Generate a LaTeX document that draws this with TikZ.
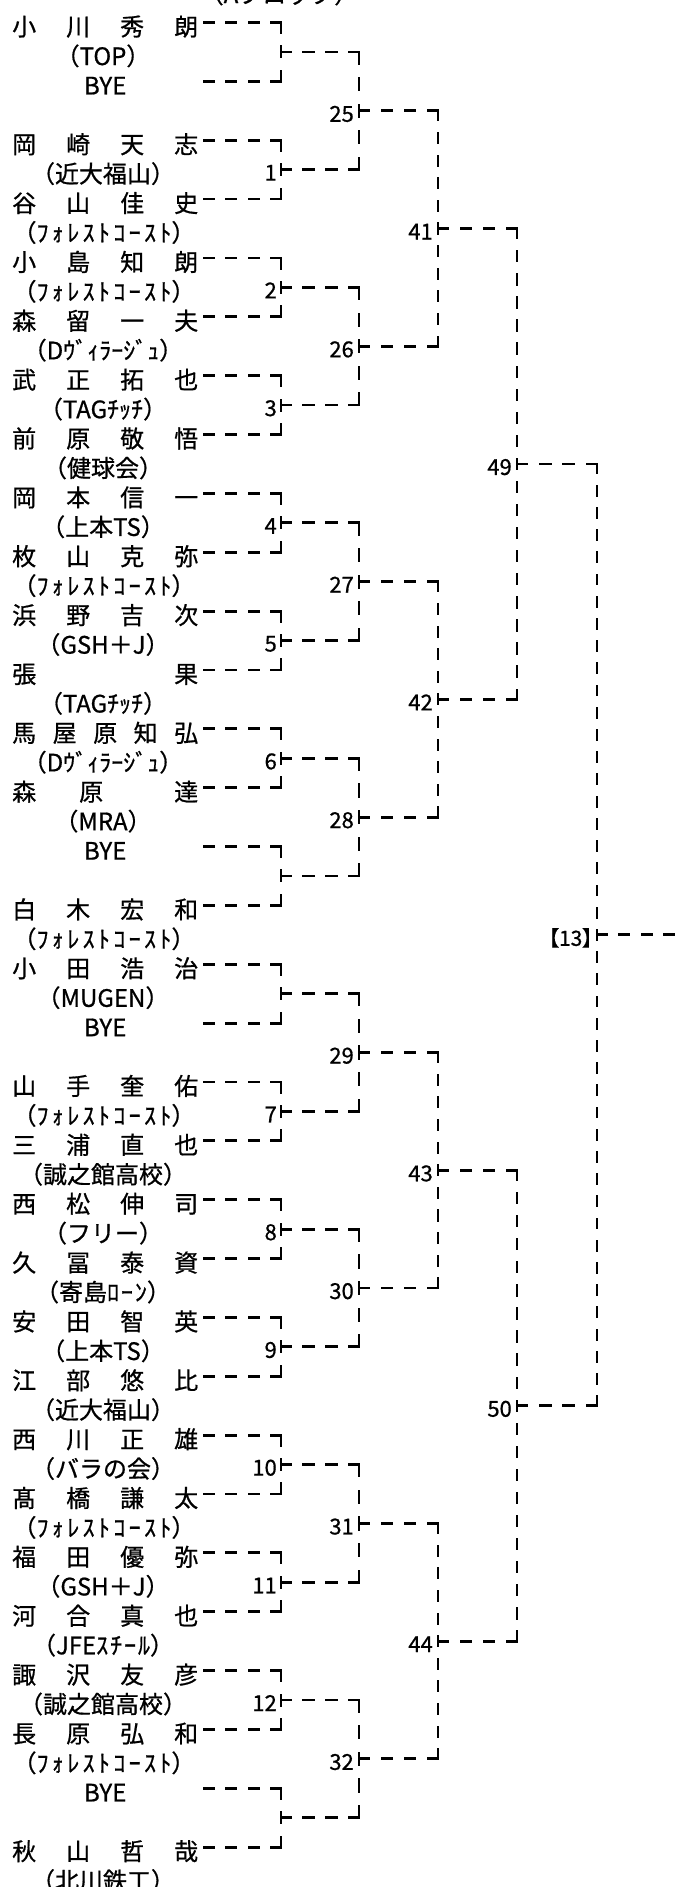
\documentclass[tikz,border=0pt]{standalone}
\usepackage{fontspec}
\setmainfont{Noto Sans CJK JP}[FakeBold=0.7]
\newfontfamily\pfont[RawFeature=+palt,FakeBold=0.7]{Noto Sans CJK JP}
\newfontfamily\hwfont[LetterSpace=14,FakeBold=0.7]{Noto Sans CJK JP}
\newfontfamily\hwfontb[LetterSpace=8,FakeBold=0.7]{Noto Sans CJK JP}
\newcommand\fcst{\kern2pt（{\hwfont ﾌｫﾚｽﾄｺｰｽﾄ}）}
\tikzset{
  nm/.style={anchor=west, inner sep=0pt, text height=26.2pt, text depth=0pt, font=\fontsize{24}{24}\selectfont},
  af/.style={anchor=center, inner sep=0pt, text height=26.2pt, text depth=0pt, font=\fontsize{24}{24}\selectfont},
  lb/.style={anchor=east, inner sep=0pt, text height=22pt, text depth=0pt, font=\fontsize{22}{22}\selectfont},
  ln/.style={line width=2.8pt, line cap=rect},
  hd/.style={ln, dash pattern=on 9.2pt off 13.3pt},
}
\newcommand\Yl[1]{{22.5+((#1)-1)*29.43}}
\newcommand\nmbox[1]{\hbox to 186pt{#1}}
\newcommand\fitline[4]{%
  \pgfmathsetmacro\fdn{#2==1 ? max(2,2*round(((#1+2.8)/22.5-0.533)/2)) : max(1,round((#1+2.8)/22.5-0.533))}%
  \pgfmathsetmacro\fdp{(#1+2.8)/(\fdn+0.533)}%
  \pgfmathsetmacro\fdon{0.533*\fdp-2.8}%
  \pgfmathsetmacro\fdoff{0.467*\fdp+2.8}%
  \draw[ln, dash pattern=on \fdon pt off \fdoff pt] (#3) -- (#4);%
}
\begin{document}
\begin{tikzpicture}[x=1pt,y=-1pt]
\clip (0,0) rectangle (679,1887);
\fill[white] (0,0) rectangle (679,1887);
\node[af] (hdr) at (279,-10) {（Aブロック）};
% players and affiliations
\node[nm] (p1) at (12,\Yl{1}) {\nmbox{小\hfill 川\hfill 秀\hfill 朗}};
\node[af] (a2) at (103,\Yl{2}) {（TOP）};
\node[nm] (p3) at (12,\Yl{3}) {\nmbox{\hfil BYE\hfil}};
\node[nm] (p5) at (12,\Yl{5}) {\nmbox{岡\hfill 崎\hfill 天\hfill 志}};
\node[af] (a6) at (103,\Yl{6}) {（近大福山）};
\node[nm] (p7) at (12,\Yl{7}) {\nmbox{谷\hfill 山\hfill 佳\hfill 史}};
\node[af] (a8) at (103,\Yl{8}) {\fcst};
\node[nm] (p9) at (12,\Yl{9}) {\nmbox{小\hfill 島\hfill 知\hfill 朗}};
\node[af] (a10) at (103,\Yl{10}) {\fcst};
\node[nm] (p11) at (12,\Yl{11}) {\nmbox{森\hfill 留\hfill 一\hfill 夫}};
\node[af] (a12) at (103,\Yl{12}) {（Dｳﾞｨﾗｰｼﾞｭ）};
\node[nm] (p13) at (12,\Yl{13}) {\nmbox{武\hfill 正\hfill 拓\hfill 也}};
\node[af] (a14) at (103,\Yl{14}) {（TAGﾁｯﾁ）};
\node[nm] (p15) at (12,\Yl{15}) {\nmbox{前\hfill 原\hfill 敬\hfill 悟}};
\node[af] (a16) at (103,\Yl{16}) {（健球会）};
\node[nm] (p17) at (12,\Yl{17}) {\nmbox{岡\hfill 本\hfill 信\hfill 一}};
\node[af] (a18) at (103,\Yl{18}) {（上本TS）};
\node[nm] (p19) at (12,\Yl{19}) {\nmbox{枚\hfill 山\hfill 克\hfill 弥}};
\node[af] (a20) at (103,\Yl{20}) {\fcst};
\node[nm] (p21) at (12,\Yl{21}) {\nmbox{浜\hfill 野\hfill 吉\hfill 次}};
\node[af] (a22) at (103,\Yl{22}) {（GSH＋J）};
\node[nm] (p23) at (12,\Yl{23}) {\nmbox{張\hfill 果}};
\node[af] (a24) at (103,\Yl{24}) {（TAGﾁｯﾁ）};
\node[nm] (p25) at (12,\Yl{25}) {\nmbox{馬\hfill 屋\hfill 原\hfill 知\hfill 弘}};
\node[af] (a26) at (103,\Yl{26}) {（Dｳﾞｨﾗｰｼﾞｭ）};
\node[nm] (p27) at (12,\Yl{27}) {\nmbox{森\hskip 43pt 原\hfill 達}};
\node[af] (a28) at (103,\Yl{28}) {（MRA）};
\node[nm] (p29) at (12,\Yl{29}) {\nmbox{\hfil BYE\hfil}};
\node[nm] (p31) at (12,\Yl{31}) {\nmbox{白\hfill 木\hfill 宏\hfill 和}};
\node[af] (a32) at (103,\Yl{32}) {\fcst};
\node[nm] (p33) at (12,\Yl{33}) {\nmbox{小\hfill 田\hfill 浩\hfill 治}};
\node[af] (a34) at (103,\Yl{34}) {（MUGEN）};
\node[nm] (p35) at (12,\Yl{35}) {\nmbox{\hfil BYE\hfil}};
\node[nm] (p37) at (12,\Yl{37}) {\nmbox{山\hfill 手\hfill 奎\hfill 佑}};
\node[af] (a38) at (103,\Yl{38}) {\fcst};
\node[nm] (p39) at (12,\Yl{39}) {\nmbox{三\hfill 浦\hfill 直\hfill 也}};
\node[af] (a40) at (103,\Yl{40}) {（誠之館高校）};
\node[nm] (p41) at (12,\Yl{41}) {\nmbox{西\hfill 松\hfill 伸\hfill 司}};
\node[af] (a42) at (103,\Yl{42}) {（フリー）};
\node[nm] (p43) at (12,\Yl{43}) {\nmbox{久\hfill 冨\hfill 泰\hfill 資}};
\node[af] (a44) at (103,\Yl{44}) {（寄島{\hwfontb ﾛｰﾝ}）};
\node[nm] (p45) at (12,\Yl{45}) {\nmbox{安\hfill 田\hfill 智\hfill 英}};
\node[af] (a46) at (103,\Yl{46}) {（上本TS）};
\node[nm] (p47) at (12,\Yl{47}) {\nmbox{江\hfill 部\hfill 悠\hfill 比}};
\node[af] (a48) at (103,\Yl{48}) {（近大福山）};
\node[nm] (p49) at (12,\Yl{49}) {\nmbox{西\hfill 川\hfill 正\hfill 雄}};
\node[af] (a50) at (103,\Yl{50}) {（バラの会）};
\node[nm] (p51) at (12,\Yl{51}) {\nmbox{髙\hfill 橋\hfill 謙\hfill 太}};
\node[af] (a52) at (103,\Yl{52}) {\fcst};
\node[nm] (p53) at (12,\Yl{53}) {\nmbox{福\hfill 田\hfill 優\hfill 弥}};
\node[af] (a54) at (103,\Yl{54}) {（GSH＋J）};
\node[nm] (p55) at (12,\Yl{55}) {\nmbox{河\hfill 合\hfill 真\hfill 也}};
\node[af] (a56) at (103,\Yl{56}) {（JFE{\hwfontb ｽﾁｰﾙ}）};
\node[nm] (p57) at (12,\Yl{57}) {\nmbox{諏\hfill 沢\hfill 友\hfill 彦}};
\node[af] (a58) at (103,\Yl{58}) {（誠之館高校）};
\node[nm] (p59) at (12,\Yl{59}) {\nmbox{長\hfill 原\hfill 弘\hfill 和}};
\node[af] (a60) at (103,\Yl{60}) {\fcst};
\node[nm] (p61) at (12,\Yl{61}) {\nmbox{\hfil BYE\hfil}};
\node[nm] (p63) at (12,\Yl{63}) {\nmbox{秋\hfill 山\hfill 哲\hfill 哉}};
\node[af] (a64) at (103,\Yl{64}) {（北川鉄工）};
% round 1
\foreach \m in {1,...,16}{
  \pgfmathtruncatemacro\ta{4*\m-3}
  \pgfmathtruncatemacro\tb{4*\m-1}
  \pgfmathtruncatemacro\tc{4*\m-2}
  \coordinate (t1-\m) at (281,\Yl{\ta});
  \coordinate (b1-\m) at (281,\Yl{\tb});
  \coordinate (j1-\m) at (281,\Yl{\tc});
  \draw[hd] (t1-\m) -- (p\ta.east);
  \draw[hd] (b1-\m) -- (p\tb.east);
  \fitline{58.86}{1}{t1-\m}{b1-\m}
}
% later rounds
\foreach \r/\X/\Xp/\len in {2/359/281/117.72, 3/438/359/235.44, 4/517/438/470.88, 5/597/517/941.76}{
  \pgfmathtruncatemacro\nmatch{2^(5-\r)}
  \pgfmathtruncatemacro\rp{\r-1}
  \foreach \m in {1,...,\nmatch}{
    \pgfmathtruncatemacro\ta{2^(\r-1)*(4*\m-3)}
    \pgfmathtruncatemacro\tb{2^(\r-1)*(4*\m-1)}
    \pgfmathtruncatemacro\tc{2^(\r)*(2*\m-1)}
    \pgfmathtruncatemacro\ma{2*\m-1}
    \pgfmathtruncatemacro\mb{2*\m}
    \coordinate (t\r-\m) at (\X,\Yl{\ta});
    \coordinate (b\r-\m) at (\X,\Yl{\tb});
    \coordinate (j\r-\m) at (\X,\Yl{\tc});
    \fitline{\X-\Xp}{0}{j\rp-\ma}{t\r-\m}
    \fitline{\X-\Xp}{0}{j\rp-\mb}{b\r-\m}
    \fitline{\len}{1}{t\r-\m}{b\r-\m}
  }
}
\coordinate (fin) at (681,\Yl{32});
\draw[hd] (j5-1) -- (fin);
% labels
\foreach \m/\lab in {2/1,3/2,4/3,5/4,6/5,7/6,10/7,11/8,12/9,13/10,14/11,15/12}{
  \node[lb] (n1-\m) at ([xshift=-4pt]j1-\m) {\lab};
}
\foreach \m in {1,...,8}{
  \pgfmathtruncatemacro\lab{24+\m}
  \node[lb] (n2-\m) at ([xshift=-5pt]j2-\m) {\lab};
}
\foreach \m in {1,...,4}{
  \pgfmathtruncatemacro\lab{40+\m}
  \node[lb] (n3-\m) at ([xshift=-5pt]j3-\m) {\lab};
}
\foreach \m in {1,2}{
  \pgfmathtruncatemacro\lab{48+\m}
  \node[lb] (n4-\m) at ([xshift=-5pt]j4-\m) {\lab};
}
\node[lb, font=\pfont\fontsize{21}{21}\selectfont] (n5) at ([xshift=-4pt]j5-1) {【13】};
\end{tikzpicture}
\end{document}
